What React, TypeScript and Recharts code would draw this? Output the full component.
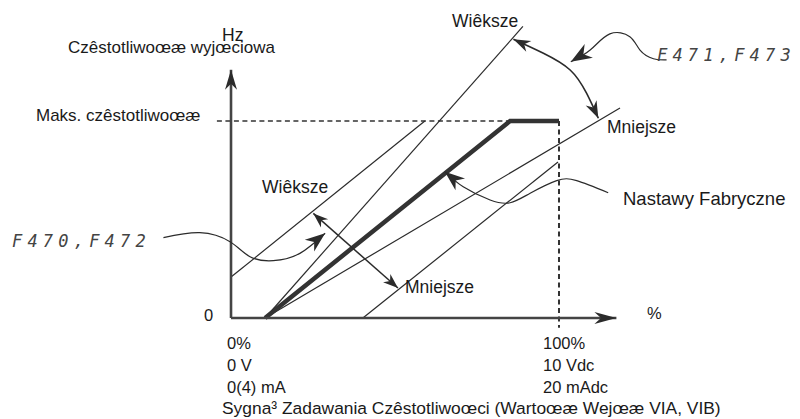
import React from 'react';
import { ComposedChart, Line, XAxis, YAxis } from 'recharts';

// chart units: x = % of input signal, y = % of max output frequency
const axisY = [{ x: 0, y: 0 }, { x: 0, y: 126 }];
const axisX = [{ x: 0, y: 0 }, { x: 117.5, y: 0 }];
const maxFreqGuide = [{ x: -4.3, y: 100 }, { x: 100, y: 100 }];
const fullScaleGuide = [{ x: 100, y: 100 }, { x: 100, y: -5 }];

const factoryLine = [{ x: 10.4, y: 0 }, { x: 85.1, y: 100 }, { x: 100, y: 100 }];
const steepLine = [{ x: 10.4, y: 0 }, { x: 89, y: 148 }];
const flatLine = [{ x: 10.4, y: 0 }, { x: 118.6, y: 106.6 }];
const biasUpper = [{ x: 0, y: 20.8 }, { x: 59.1, y: 100 }];
const biasLower = [{ x: 40.2, y: 0 }, { x: 99.7, y: 79.2 }];

// annotation curves (tail -> tip)
const gainPointer = [
  { x: 132.8, y: 131.0 }, { x: 128.8, y: 131.6 }, { x: 124.7, y: 136.0 },
  { x: 121.6, y: 142.8 }, { x: 115.5, y: 144.2 }, { x: 109.5, y: 136.0 }, { x: 103.6, y: 130.1 },
];
const gainArc = [
  { x: 86.1, y: 141.5 }, { x: 95.1, y: 134.5 }, { x: 103.4, y: 125.9 },
  { x: 108.4, y: 114.1 }, { x: 112.0, y: 101.4 },
];
const biasPointer = [
  { x: -20.6, y: 40.8 }, { x: -9.5, y: 43.3 }, { x: -0.3, y: 38.7 }, { x: 5.8, y: 31.1 },
  { x: 12.9, y: 29.1 }, { x: 21.0, y: 32.8 }, { x: 28.7, y: 43.0 },
];
const biasArrow = [{ x: 25.1, y: 53.1 }, { x: 50.9, y: 15.2 }];
const factoryPointer = [
  { x: 115.0, y: 63.6 }, { x: 105.4, y: 69.7 }, { x: 99.3, y: 69.7 }, { x: 91.2, y: 63.3 },
  { x: 85.1, y: 58.5 }, { x: 79.0, y: 59.9 }, { x: 70.8, y: 66.6 }, { x: 65.2, y: 74.3 },
];

const xStart = ['0%', '0 V', '0(4) mA'];
const xEnd = ['100%', '10 Vdc', '20 mAdc'];

const INK = '#2b2b2b';

function head(tx: number, ty: number, fx: number, fy: number, len: number, half: number) {
  const dx = tx - fx, dy = ty - fy;
  const d = Math.hypot(dx, dy) || 1;
  const ux = dx / d, uy = dy / d;
  const nx = -uy, ny = ux;
  const bx = tx - ux * len, by = ty - uy * len;
  const mx = tx - ux * len * 0.7, my = ty - uy * len * 0.7;
  return `M${tx},${ty} L${bx + nx * half},${by + ny * half} L${mx},${my} L${bx - nx * half},${by - ny * half} Z`;
}

const arrowDot = (start: boolean, end: boolean, len: number, half: number) => (props: any) => {
  const { points, index, cx, cy } = props;
  const k = `a-${index}`;
  if (!points || points.length < 2) return <g key={k} />;
  const n = points.length;
  if (end && index === n - 1) {
    const p = points[n - 2];
    return <path key={k} d={head(cx, cy, p.x, p.y, len, half)} fill={INK} />;
  }
  if (start && index === 0) {
    const p = points[1];
    return <path key={k} d={head(cx, cy, p.x, p.y, len, half)} fill={INK} />;
  }
  return <g key={k} />;
};

const text = (left: number, cy: number, s: string, size = 17.5, extra: React.CSSProperties = {}) => (
  <span
    key={s + left + cy}
    style={{
      position: 'absolute', left, top: cy, transform: 'translateY(-50%)', fontSize: size,
      lineHeight: 1, whiteSpace: 'nowrap', color: '#1a1a1a', ...extra,
    }}
  >
    {s}
  </span>
);

const code: React.CSSProperties = {
  fontFamily: '"DejaVu Sans Mono", monospace', fontStyle: 'italic', letterSpacing: 5.2,
  color: '#444', fontWeight: 300,
};

export default function App() {
  const thin = { stroke: INK, strokeWidth: 1.2, dot: false, activeDot: false, isAnimationActive: false, type: 'linear' as const };
  const curve = { ...thin, type: 'natural' as const };
  return (
    <div style={{ position: 'absolute', left: 0, top: 0, width: 800, height: 419, background: '#fff', fontFamily: '"Liberation Sans", Arial, sans-serif' }}>
      <ComposedChart width={800} height={419} margin={{ top: 0, right: 0, bottom: 0, left: 0 }}>
        <XAxis type="number" dataKey="x" domain={[-70.43, 173.48]} allowDataOverflow hide />
        <YAxis type="number" dataKey="y" domain={[-51.27, 161.42]} allowDataOverflow hide />

        <Line data={maxFreqGuide} dataKey="y" {...thin} stroke="#333" strokeWidth={1.6} strokeDasharray="5 3.5" />
        <Line data={fullScaleGuide} dataKey="y" {...thin} stroke="#333" strokeWidth={2} strokeDasharray="5 3.5" />

        <Line data={steepLine} dataKey="y" {...thin} />
        <Line data={flatLine} dataKey="y" {...thin} />
        <Line data={biasUpper} dataKey="y" {...thin} />
        <Line data={biasLower} dataKey="y" {...thin} />
        <Line data={factoryLine} dataKey="y" {...thin} stroke="#333" strokeWidth={4.5} strokeLinejoin="miter" />

        <Line data={axisY} dataKey="y" {...thin} stroke="#444" strokeWidth={2.6} dot={arrowDot(false, true, 20, 6)} />
        <Line data={axisX} dataKey="y" {...thin} stroke="#444" strokeWidth={2.6} dot={arrowDot(false, true, 22, 6)} />

        <Line data={gainPointer} dataKey="y" {...curve} dot={arrowDot(false, true, 21, 8)} />
        <Line data={gainArc} dataKey="y" {...curve} strokeWidth={1.6} dot={arrowDot(true, true, 17, 6)} />
        <Line data={biasPointer} dataKey="y" {...curve} dot={arrowDot(false, true, 20, 7.5)} />
        <Line data={biasArrow} dataKey="y" {...thin} strokeWidth={1.5} dot={arrowDot(true, true, 15, 5.5)} />
        <Line data={factoryPointer} dataKey="y" {...curve} dot={arrowDot(false, true, 20, 7.5)} />
      </ComposedChart>

      {text(68, 47, 'Czêstotliwoœæ wyjœciowa', 17)}
      {text(222, 36, 'Hz')}
      {text(36, 115, 'Maks. czêstotliwoœæ', 17)}
      {text(452, 22, 'Wiêksze')}
      {text(657, 55, 'F471,F473', 17, code)}
      {text(607, 128, 'Mniejsze')}
      {text(262, 188, 'Wiêksze')}
      {text(12, 241, 'F470,F472', 17, code)}
      {text(623, 199, 'Nastawy Fabryczne', 18.5)}
      {text(405, 288, 'Mniejsze')}
      {text(204, 315, '0', 16.5)}
      {text(647, 313, '%', 16.5)}
      {xStart.map((s, i) => text(227, 343 + i * 22, s, 16.5))}
      {xEnd.map((s, i) => text(543, 343 + i * 22, s, 16.5))}
      {text(222, 409, 'Sygna³ Zadawania Czêstotliwoœci (Wartoœæ Wejœæ VIA, VIB)', 17.4)}
    </div>
  );
}
